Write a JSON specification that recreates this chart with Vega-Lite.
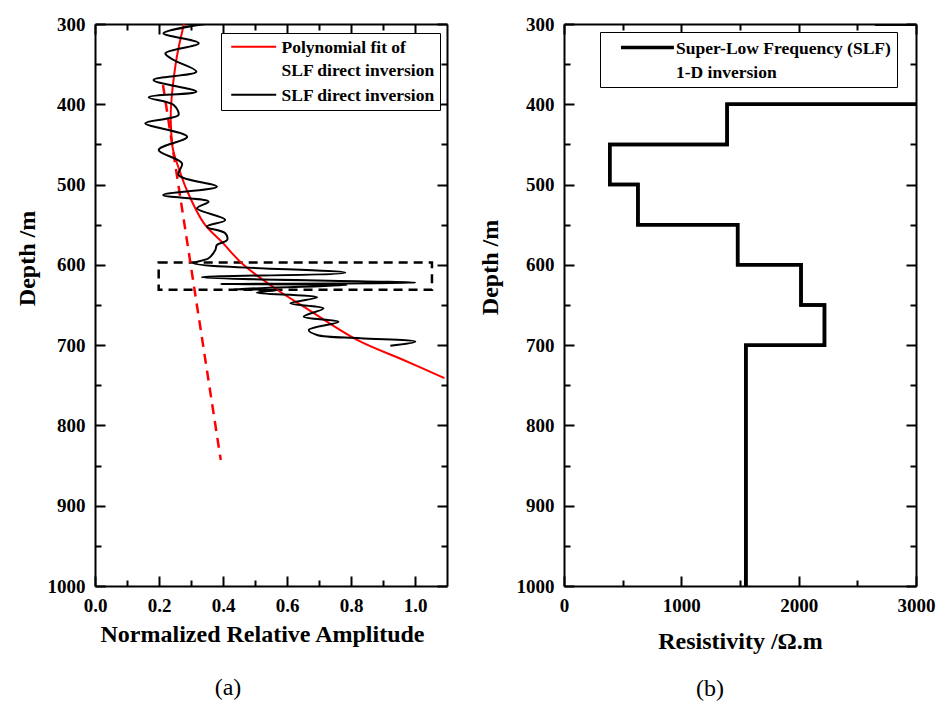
{
  "$schema": "https://vega.github.io/schema/vega-lite/v6.json",
  "background": "white",
  "padding": {"left": 15, "top": 15, "right": 5, "bottom": 5},
  "spacing": 30,
  "resolve": {"scale": {"color": "independent"}, "legend": {"color": "independent"}},
  "config": {
    "view": {"stroke": null},
    "axis": {
      "grid": false,
      "labelFlush": false,
      "labelOverlap": false,
      "domainColor": "black",
      "domainWidth": 2,
      "tickColor": "black",
      "tickWidth": 2,
      "labelFont": "Liberation Serif",
      "labelFontWeight": "bold",
      "labelFontSize": 19,
      "labelColor": "black",
      "titleFont": "Liberation Serif",
      "titleFontWeight": "bold",
      "titleFontSize": 24,
      "titleColor": "black"
    }
  },
  "datasets": {
    "raw": [
      {"a": 0.345, "d": 300, "s": "SLF direct inversion"},
      {"a": 0.214, "d": 311.6, "s": "SLF direct inversion"},
      {"a": 0.324, "d": 324, "s": "SLF direct inversion"},
      {"a": 0.22, "d": 336.5, "s": "SLF direct inversion"},
      {"a": 0.246, "d": 344.8, "s": "SLF direct inversion"},
      {"a": 0.317, "d": 359.4, "s": "SLF direct inversion"},
      {"a": 0.183, "d": 369.7, "s": "SLF direct inversion"},
      {"a": 0.317, "d": 384.3, "s": "SLF direct inversion"},
      {"a": 0.168, "d": 391.3, "s": "SLF direct inversion"},
      {"a": 0.246, "d": 400.9, "s": "SLF direct inversion"},
      {"a": 0.261, "d": 413.3, "s": "SLF direct inversion"},
      {"a": 0.23, "d": 417.4, "s": "SLF direct inversion"},
      {"a": 0.157, "d": 423.7, "s": "SLF direct inversion"},
      {"a": 0.288, "d": 440.4, "s": "SLF direct inversion"},
      {"a": 0.199, "d": 456.9, "s": "SLF direct inversion"},
      {"a": 0.272, "d": 473.5, "s": "SLF direct inversion"},
      {"a": 0.261, "d": 488.1, "s": "SLF direct inversion"},
      {"a": 0.381, "d": 502.6, "s": "SLF direct inversion"},
      {"a": 0.213, "d": 513, "s": "SLF direct inversion"},
      {"a": 0.355, "d": 521.3, "s": "SLF direct inversion"},
      {"a": 0.319, "d": 529.5, "s": "SLF direct inversion"},
      {"a": 0.407, "d": 544.1, "s": "SLF direct inversion"},
      {"a": 0.35, "d": 552.4, "s": "SLF direct inversion"},
      {"a": 0.407, "d": 560.7, "s": "SLF direct inversion"},
      {"a": 0.413, "d": 569, "s": "SLF direct inversion"},
      {"a": 0.381, "d": 575.3, "s": "SLF direct inversion"},
      {"a": 0.376, "d": 581.5, "s": "SLF direct inversion"},
      {"a": 0.355, "d": 591.8, "s": "SLF direct inversion"},
      {"a": 0.308, "d": 597.7, "s": "SLF direct inversion"},
      {"a": 0.782, "d": 609.7, "s": "SLF direct inversion"},
      {"a": 0.334, "d": 615.5, "s": "SLF direct inversion"},
      {"a": 1.001, "d": 622.2, "s": "SLF direct inversion"},
      {"a": 0.392, "d": 623.8, "s": "SLF direct inversion"},
      {"a": 0.788, "d": 625.1, "s": "SLF direct inversion"},
      {"a": 0.433, "d": 630.4, "s": "SLF direct inversion"},
      {"a": 0.569, "d": 631.3, "s": "SLF direct inversion"},
      {"a": 0.506, "d": 634.7, "s": "SLF direct inversion"},
      {"a": 0.694, "d": 640.4, "s": "SLF direct inversion"},
      {"a": 0.61, "d": 647.9, "s": "SLF direct inversion"},
      {"a": 0.714, "d": 654.1, "s": "SLF direct inversion"},
      {"a": 0.652, "d": 664.5, "s": "SLF direct inversion"},
      {"a": 0.761, "d": 670.8, "s": "SLF direct inversion"},
      {"a": 0.668, "d": 681.1, "s": "SLF direct inversion"},
      {"a": 0.694, "d": 687.3, "s": "SLF direct inversion"},
      {"a": 0.829, "d": 691.4, "s": "SLF direct inversion"},
      {"a": 1.001, "d": 695.7, "s": "SLF direct inversion"},
      {"a": 0.923, "d": 700.7, "s": "SLF direct inversion"}
    ],
    "fit": [
      {"a": 0.278, "d": 300, "s": "Polynomial fit of SLF direct inversion"},
      {"a": 0.261, "d": 330, "s": "Polynomial fit of SLF direct inversion"},
      {"a": 0.252, "d": 350, "s": "Polynomial fit of SLF direct inversion"},
      {"a": 0.238, "d": 400, "s": "Polynomial fit of SLF direct inversion"},
      {"a": 0.237, "d": 425, "s": "Polynomial fit of SLF direct inversion"},
      {"a": 0.244, "d": 457, "s": "Polynomial fit of SLF direct inversion"},
      {"a": 0.262, "d": 480, "s": "Polynomial fit of SLF direct inversion"},
      {"a": 0.287, "d": 507, "s": "Polynomial fit of SLF direct inversion"},
      {"a": 0.34, "d": 548, "s": "Polynomial fit of SLF direct inversion"},
      {"a": 0.4, "d": 573, "s": "Polynomial fit of SLF direct inversion"},
      {"a": 0.464, "d": 600, "s": "Polynomial fit of SLF direct inversion"},
      {"a": 0.569, "d": 631, "s": "Polynomial fit of SLF direct inversion"},
      {"a": 0.652, "d": 652, "s": "Polynomial fit of SLF direct inversion"},
      {"a": 0.819, "d": 693.5, "s": "Polynomial fit of SLF direct inversion"},
      {"a": 0.964, "d": 718.5, "s": "Polynomial fit of SLF direct inversion"},
      {"a": 1.092, "d": 741, "s": "Polynomial fit of SLF direct inversion"}
    ],
    "dash": [
      {"a": 0.2125, "d": 376},
      {"a": 0.393, "d": 843}
    ],
    "box": [
      {"a1": 0.199, "a2": 1.053, "d1": 597, "d2": 631}
    ],
    "steps": [
      {"i": 0, "r": 2650, "d": 300, "s": "Super-Low Frequency (SLF) 1-D inversion"},
      {"i": 1, "r": 3300, "d": 300, "s": "Super-Low Frequency (SLF) 1-D inversion"},
      {"i": 2, "r": 3300, "d": 400, "s": "Super-Low Frequency (SLF) 1-D inversion"},
      {"i": 3, "r": 1390, "d": 400, "s": "Super-Low Frequency (SLF) 1-D inversion"},
      {"i": 4, "r": 1390, "d": 450, "s": "Super-Low Frequency (SLF) 1-D inversion"},
      {"i": 5, "r": 390, "d": 450, "s": "Super-Low Frequency (SLF) 1-D inversion"},
      {"i": 6, "r": 390, "d": 500, "s": "Super-Low Frequency (SLF) 1-D inversion"},
      {"i": 7, "r": 630, "d": 500, "s": "Super-Low Frequency (SLF) 1-D inversion"},
      {"i": 8, "r": 630, "d": 550, "s": "Super-Low Frequency (SLF) 1-D inversion"},
      {"i": 9, "r": 1480, "d": 550, "s": "Super-Low Frequency (SLF) 1-D inversion"},
      {"i": 10, "r": 1480, "d": 600, "s": "Super-Low Frequency (SLF) 1-D inversion"},
      {"i": 11, "r": 2020, "d": 600, "s": "Super-Low Frequency (SLF) 1-D inversion"},
      {"i": 12, "r": 2020, "d": 650, "s": "Super-Low Frequency (SLF) 1-D inversion"},
      {"i": 13, "r": 2220, "d": 650, "s": "Super-Low Frequency (SLF) 1-D inversion"},
      {"i": 14, "r": 2220, "d": 700, "s": "Super-Low Frequency (SLF) 1-D inversion"},
      {"i": 15, "r": 1550, "d": 700, "s": "Super-Low Frequency (SLF) 1-D inversion"},
      {"i": 16, "r": 1550, "d": 1000, "s": "Super-Low Frequency (SLF) 1-D inversion"}
    ]
  },
  "hconcat": [
    {
      "width": 352,
      "height": 562,
      "title": {"text": "(a)", "orient": "bottom", "font": "Liberation Serif", "fontSize": 24, "fontWeight": "normal", "color": "black", "dx": -43, "offset": 30},
      "layer": [
        {
          "data": {"name": "box"},
          "mark": {"type": "rect", "fillOpacity": 0, "stroke": "black", "strokeWidth": 2.5, "strokeDash": [9, 6], "clip": true},
          "encoding": {
            "x": {"field": "a1", "type": "quantitative", "scale": {"domain": [0, 1.1], "nice": false, "zero": false}, "axis": null},
            "x2": {"field": "a2"},
            "y": {"field": "d1", "type": "quantitative", "scale": {"domain": [300, 1000], "reverse": true, "nice": false, "zero": false}, "axis": null},
            "y2": {"field": "d2"}
          }
        },
        {
          "data": {"name": "dash"},
          "mark": {"type": "line", "color": "#ff0000", "strokeWidth": 2.5, "strokeDash": [10, 7], "clip": true},
          "encoding": {
            "x": {"field": "a", "type": "quantitative", "axis": null},
            "y": {"field": "d", "type": "quantitative", "axis": null},
            "order": {"field": "d", "type": "quantitative"}
          }
        },
        {
          "data": {"name": "fit"},
          "mark": {"type": "line", "strokeWidth": 2, "interpolate": "catmull-rom", "clip": true},
          "encoding": {
            "x": {"field": "a", "type": "quantitative", "axis": {"orient": "top", "labels": false, "title": null, "values": [0, 0.1, 0.2, 0.3, 0.4, 0.5, 0.6, 0.7, 0.8, 0.9, 1.0], "tickSize": {"condition": {"test": "round(datum.value * 10) % 2 === 0", "value": -10}, "value": -6}}},
            "y": {"field": "d", "type": "quantitative", "axis": {"orient": "right", "labels": false, "title": null, "values": [300, 350, 400, 450, 500, 550, 600, 650, 700, 750, 800, 850, 900, 950, 1000], "tickSize": {"condition": {"test": "datum.value % 100 === 0", "value": -10}, "value": -6}}},
            "order": {"field": "d", "type": "quantitative"},
            "color": {"field": "s", "type": "nominal", "scale": {"domain": ["Polynomial fit of SLF direct inversion", "SLF direct inversion"], "range": ["#ff0000", "#000000"]}, "legend": {
              "orient": "none", "legendX": 126, "legendY": 9, "title": null,
              "strokeColor": "black", "fillColor": "white", "padding": 5,
              "symbolType": "M-0.47,0H5.53", "symbolSize": 225, "symbolStrokeWidth": 2,
              "labelFont": "Liberation Serif", "labelFontWeight": "bold", "labelFontSize": 17.5, "labelColor": "black", "labelLimit": 400, "labelOffset": 38, "rowPadding": 6,
              "labelExpr": "replace(datum.label, 'fit of ', 'fit of|')",
              "encode": {"labels": {"update": {"lineBreak": {"value": "|"}, "lineHeight": {"value": 23}, "baseline": {"value": "top"}, "dy": {"value": -8}}}}
            }}
          }
        },
        {
          "data": {"name": "raw"},
          "mark": {"type": "line", "strokeWidth": 2, "interpolate": "catmull-rom", "clip": true},
          "encoding": {
            "x": {"field": "a", "type": "quantitative", "title": "Normalized Relative Amplitude", "axis": {"orient": "bottom", "values": [0, 0.1, 0.2, 0.3, 0.4, 0.5, 0.6, 0.7, 0.8, 0.9, 1.0], "labelExpr": "round(datum.value * 10) % 2 === 0 ? format(datum.value, '.1f') : ''", "tickSize": {"condition": {"test": "round(datum.value * 10) % 2 === 0", "value": -10}, "value": -6}, "labelPadding": 20, "titlePadding": 3, "titleX": 167}},
            "y": {"field": "d", "type": "quantitative", "title": "Depth /m", "axis": {"orient": "left", "values": [300, 350, 400, 450, 500, 550, 600, 650, 700, 750, 800, 850, 900, 950, 1000], "labelExpr": "datum.value % 100 === 0 ? datum.value : ''", "tickSize": {"condition": {"test": "datum.value % 100 === 0", "value": -10}, "value": -6}, "labelPadding": 20, "titlePadding": 8, "titleY": 234}},
            "order": {"field": "d", "type": "quantitative"},
            "color": {"field": "s", "type": "nominal"}
          }
        }
      ],
      "resolve": {"axis": {"x": "independent", "y": "independent"}}
    },
    {
      "width": 352,
      "height": 562,
      "title": {"text": "(b)", "orient": "bottom", "font": "Liberation Serif", "fontSize": 24, "fontWeight": "normal", "color": "black", "dx": -30, "offset": 24},
      "layer": [
        {
          "data": {"name": "steps"},
          "mark": {"type": "line", "strokeWidth": 3.5, "clip": true},
          "encoding": {
            "x": {"field": "r", "type": "quantitative", "scale": {"domain": [0, 3000], "nice": false, "zero": false}, "axis": {"orient": "top", "labels": false, "title": null, "values": [0, 500, 1000, 1500, 2000, 2500, 3000], "tickSize": {"condition": {"test": "datum.value % 1000 === 0", "value": -10}, "value": -6}}},
            "y": {"field": "d", "type": "quantitative", "scale": {"domain": [300, 1000], "reverse": true, "nice": false, "zero": false}, "axis": {"orient": "right", "labels": false, "title": null, "values": [300, 350, 400, 450, 500, 550, 600, 650, 700, 750, 800, 850, 900, 950, 1000], "tickSize": {"condition": {"test": "datum.value % 100 === 0", "value": -10}, "value": -6}}},
            "order": {"field": "i", "type": "quantitative"},
            "color": {"field": "s", "type": "nominal", "scale": {"range": ["#000000"]}, "legend": {
              "orient": "none", "legendX": 36, "legendY": 8, "title": null,
              "strokeColor": "black", "fillColor": "white", "padding": 6,
              "symbolType": "M0.73,0H7.79", "symbolSize": 225, "symbolStrokeWidth": 3.5,
              "labelFont": "Liberation Serif", "labelFontWeight": "bold", "labelFontSize": 17.5, "labelColor": "black", "labelLimit": 400, "labelOffset": 51,
              "labelExpr": "replace(datum.label, ' 1-D', '|1-D')",
              "encode": {"labels": {"update": {"lineBreak": {"value": "|"}, "lineHeight": {"value": 24}, "baseline": {"value": "top"}, "dy": {"value": -8}}}}
            }}
          }
        },
        {
          "data": {"name": "steps"},
          "mark": {"type": "line", "strokeWidth": 3.5, "clip": true},
          "encoding": {
            "x": {"field": "r", "type": "quantitative", "title": "Resistivity /Ω.m", "axis": {"orient": "bottom", "values": [0, 500, 1000, 1500, 2000, 2500, 3000], "labelExpr": "datum.value % 1000 === 0 ? datum.value : ''", "tickSize": {"condition": {"test": "datum.value % 1000 === 0", "value": -10}, "value": -6}, "labelPadding": 20, "titlePadding": 10}},
            "y": {"field": "d", "type": "quantitative", "title": "Depth /m", "axis": {"orient": "left", "values": [300, 350, 400, 450, 500, 550, 600, 650, 700, 750, 800, 850, 900, 950, 1000], "labelExpr": "datum.value % 100 === 0 ? datum.value : ''", "tickSize": {"condition": {"test": "datum.value % 100 === 0", "value": -10}, "value": -6}, "labelPadding": 20, "titlePadding": 14, "titleY": 243}},
            "order": {"field": "i", "type": "quantitative"},
            "color": {"field": "s", "type": "nominal"}
          }
        }
      ],
      "resolve": {"axis": {"x": "independent", "y": "independent"}}
    }
  ]
}
